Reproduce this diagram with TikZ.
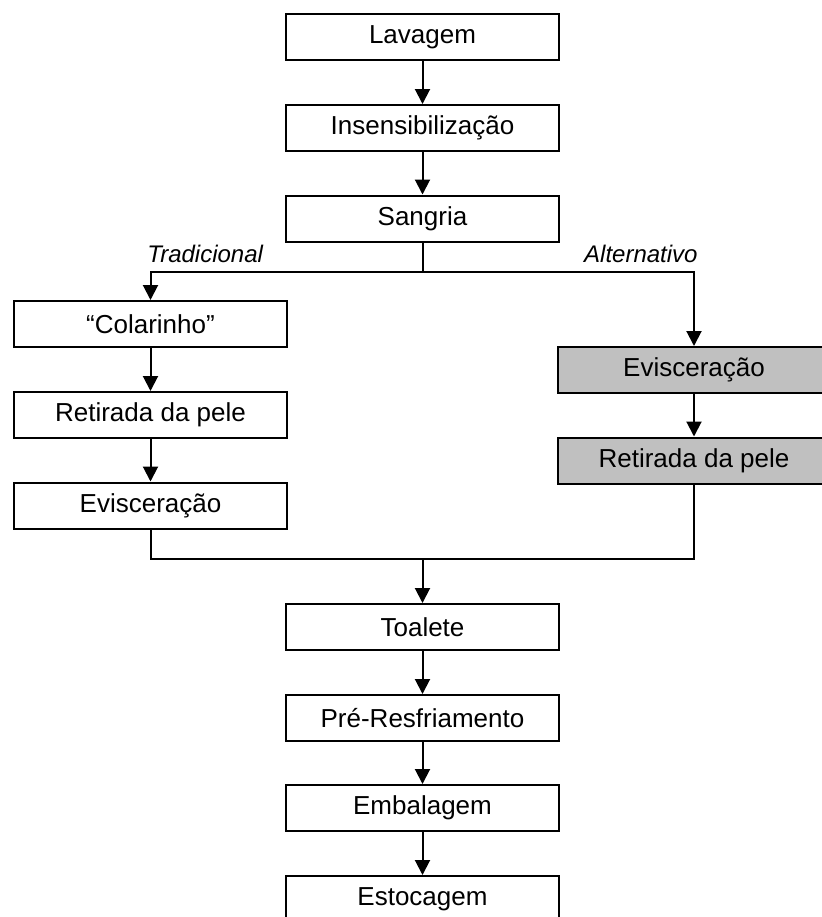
\documentclass[tikz,border=0pt]{standalone}
\usepackage{fontspec}
\setmainfont{Liberation Sans}
\usepackage{tikz}
\usetikzlibrary{positioning,arrows.meta,calc}
\definecolor{ink}{HTML}{000000}
\definecolor{shade}{HTML}{C0C0C0}
\tikzset{
  stepbox/.style={draw=ink,fill=white,line width=1pt,minimum width=136.5pt,minimum height=23pt,inner sep=0pt,align=center,font=\fontsize{13pt}{15pt}\selectfont},
  greybox/.style={stepbox,fill=shade},
  flow/.style={-{Triangle[length=7.5pt,width=7.5pt]},draw=ink,line width=1pt},
  link/.style={draw=ink,line width=1pt},
  lbl/.style={font=\fontsize{12pt}{14pt}\selectfont\itshape,inner sep=0pt}}

\begin{document}
\begin{tikzpicture}[x=0.5pt,y=-0.5pt]
  \clip (0,0) rectangle (822,917);
  \node[stepbox] (lav) at (422.5,37)    {Lavagem};
  \node[stepbox] (ins) at (422.5,128)   {Insensibilização};
  \node[stepbox] (san) at (422.5,218.5) {Sangria};
  \node[stepbox] (col) at (150.5,324)   {``Colarinho''};
  \node[stepbox] (ret) at (150.5,415)   {Retirada da pele};
  \node[stepbox] (evi) at (150.5,505.5) {Evisceração};
  \node[greybox] (evialt) at (694,370)   {Evisceração};
  \node[greybox] (retalt) at (694,460.5) {Retirada da pele};
  \node[stepbox] (toa) at (422.5,627)   {Toalete};
  \node[stepbox] (pre) at (422.5,718)   {Pré-Resfriamento};
  \node[stepbox] (emb) at (422.5,808)   {Embalagem};
  \node[stepbox] (est) at (422.5,899)   {Estocagem};
  \coordinate (split) at (422.5,272);
  \coordinate (merge) at (422.5,559);
  \foreach \a/\b in {lav/ins,ins/san,col/ret,ret/evi,evialt/retalt,toa/pre,pre/emb,emb/est}{\draw[flow] (\a) -- (\b);}
  \draw[link] (san) -- (split);
  \draw[flow] (split) -| (col);
  \draw[flow] (split) -| (evialt);
  \node[lbl,anchor=base west] (trad) at (147,262) {Tradicional};
  \node[lbl,anchor=base east] (alt) at (698,262) {Alternativo};
  \draw[link] (evi) |- (merge);
  \draw[link] (retalt) |- (merge);
  \draw[flow] (merge) -- (toa);
\end{tikzpicture}
\end{document}
